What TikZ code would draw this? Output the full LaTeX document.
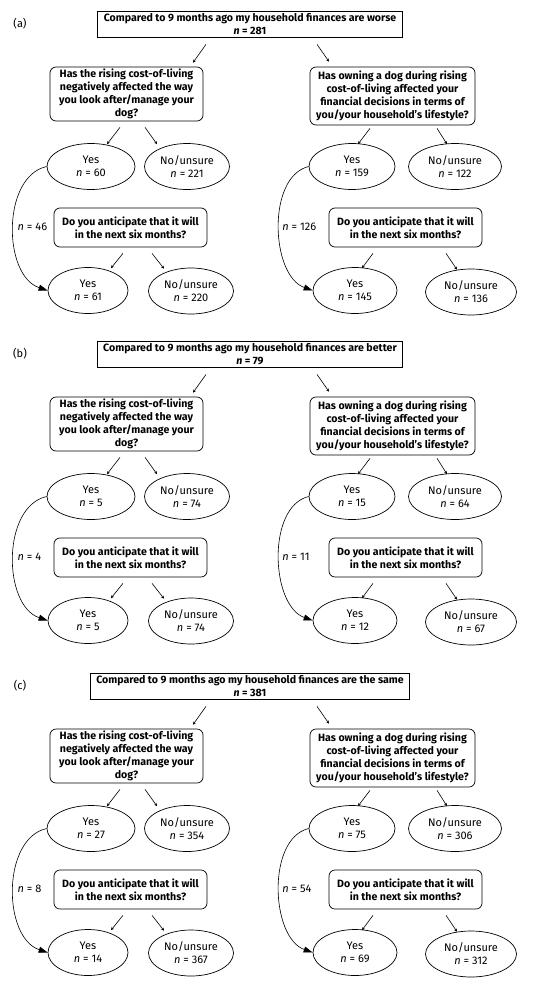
\documentclass[tikz,border=0pt]{standalone}
\usepackage{fontspec}
\setmainfont{Fira Sans}
\usetikzlibrary{arrows.meta,shapes.geometric}

\newcommand{\nn}{\textit{n} = }

\begin{document}
\begin{tikzpicture}[x=1pt,y=-1pt]
\tikzset{tag/.style = {font=\fontsize{11}{13}\selectfont}}
\tikzset{topbox/.style = {draw,line width=0.7pt,align=center,inner xsep=6pt,inner ysep=2.5pt,
  font=\fontsize{10.6}{12.8}\selectfont\bfseries}}
\tikzset{question/.style = {draw,rounded corners=6pt,line width=0.7pt,align=center,inner sep=1pt,
  font=\fontsize{10.6}{12.8}\selectfont\bfseries}}
\tikzset{answer/.style = {draw,ellipse,line width=0.7pt,align=center,inner sep=0pt,
  minimum height=46,font=\fontsize{11}{13}\selectfont}}
\tikzset{edge/.style = {-{Stealth[length=3pt,width=3pt]},line width=0.6pt}}
\tikzset{skip/.style = {-{Triangle[length=9pt,width=6pt]},line width=0.6pt}}
\useasboundingbox (0,0) rectangle (550,985);

% (a) worse
\begin{scope}[name prefix=a-]
\node[tag] (lab) at (20,24) {(a)};
\node[topbox] (top) at (250,24) {Compared to 9 months ago my household finances are worse\\\nn 281};
\node[question,minimum width=153,minimum height=54] (q1) at (126.5,94)
  {Has the rising cost-of-living\\negatively affected the way\\you look after/manage your\\dog?};
\node[question,minimum width=165,minimum height=58] (q2) at (392.5,96)
  {Has owning a dog during rising\\cost-of-living affected your\\financial decisions in terms of\\you/your household’s lifestyle?};
\node[answer,minimum width=88] (y1) at (91,166.5) {Yes\\\nn 60};
\node[answer,minimum width=85] (n1) at (187,166.5) {No/unsure\\\nn 221};
\node[answer,minimum width=86] (y2) at (352,166.5) {Yes\\\nn 159};
\node[answer,minimum width=93] (n2) at (455,166.5) {No/unsure\\\nn 122};
\node[question,minimum width=153,minimum height=39] (q3) at (130.5,227.5)
  {Do you anticipate that it will\\in the next six months?};
\node[question,minimum width=153,minimum height=39] (q4) at (405.5,227.5)
  {Do you anticipate that it will\\in the next six months?};
\node[answer,minimum width=80] (y3) at (88,290.5) {Yes\\\nn 61};
\node[answer,minimum width=85] (n3) at (191,291) {No/unsure\\\nn 220};
\node[answer,minimum width=84] (y4) at (355,290.5) {Yes\\\nn 145};
\node[answer,minimum width=91] (n4) at (471,292) {No/unsure\\\nn 136};
% arrows
\draw[edge] ([xshift=-44pt,yshift=-7pt]top.south) -- ([xshift=66.5pt,yshift=4pt]q1.north);
\draw[edge] ([xshift=67pt,yshift=-7pt]top.south) -- ([xshift=-63.5pt,yshift=5pt]q2.north);
\draw[edge] ([xshift=-6.5pt,yshift=-6pt]q1.south) -- ([xshift=16pt,yshift=-1pt]y1.north);
\draw[edge] ([xshift=18.5pt,yshift=-6pt]q1.south) -- ([xshift=-30pt,yshift=-1pt]n1.north);
\draw[edge] ([xshift=-22.5pt,yshift=-3pt]q2.south) -- ([xshift=6pt,yshift=-1pt]y2.north);
\draw[edge] ([xshift=44.5pt,yshift=-3pt]q2.south) -- ([xshift=-8pt,yshift=-1pt]n2.north);
\draw[edge] ([xshift=-7.5pt,yshift=-6pt]q3.south) -- ([xshift=23pt,yshift=-1pt]y3.north);
\draw[edge] ([xshift=21.5pt,yshift=-6pt]q3.south) -- ([xshift=-27pt,yshift=-1pt]n3.north);
\draw[edge] ([xshift=-32.5pt,yshift=-6pt]q4.south) -- ([xshift=7pt,yshift=-1pt]y4.north);
\draw[edge] ([xshift=40.5pt,yshift=-6pt]q4.south) -- ([xshift=-14pt,yshift=-1pt]n4.north);
\draw[skip] (y1.west) .. controls +(-45,10) and +(-45,-15) .. (y3.west)
  node[midway,right,tag,inner sep=4pt] {\nn 46};
\draw[skip] (y2.west) .. controls +(-42,10) and +(-42,-15) .. (y4.west)
  node[midway,right,tag,inner sep=3pt] {\nn 126};
\end{scope}

% (b) better
\begin{scope}[name prefix=b-,shift={(0,330)}]
\node[tag] (lab) at (20,24) {(b)};
\node[topbox] (top) at (250,24) {Compared to 9 months ago my household finances are better\\\nn 79};
\node[question,minimum width=153,minimum height=54] (q1) at (126.5,94)
  {Has the rising cost-of-living\\negatively affected the way\\you look after/manage your\\dog?};
\node[question,minimum width=165,minimum height=58] (q2) at (392.5,96)
  {Has owning a dog during rising\\cost-of-living affected your\\financial decisions in terms of\\you/your household’s lifestyle?};
\node[answer,minimum width=88] (y1) at (91,166.5) {Yes\\\nn 5};
\node[answer,minimum width=85] (n1) at (187,166.5) {No/unsure\\\nn 74};
\node[answer,minimum width=86] (y2) at (352,166.5) {Yes\\\nn 15};
\node[answer,minimum width=93] (n2) at (455,166.5) {No/unsure\\\nn 64};
\node[question,minimum width=153,minimum height=39] (q3) at (130.5,227.5)
  {Do you anticipate that it will\\in the next six months?};
\node[question,minimum width=153,minimum height=39] (q4) at (405.5,227.5)
  {Do you anticipate that it will\\in the next six months?};
\node[answer,minimum width=80] (y3) at (88,290.5) {Yes\\\nn 5};
\node[answer,minimum width=85] (n3) at (191,291) {No/unsure\\\nn 74};
\node[answer,minimum width=84] (y4) at (355,290.5) {Yes\\\nn 12};
\node[answer,minimum width=91] (n4) at (471,292) {No/unsure\\\nn 67};
% arrows
\draw[edge] ([xshift=-44pt,yshift=-7pt]top.south) -- ([xshift=66.5pt,yshift=4pt]q1.north);
\draw[edge] ([xshift=67pt,yshift=-7pt]top.south) -- ([xshift=-63.5pt,yshift=5pt]q2.north);
\draw[edge] ([xshift=-6.5pt,yshift=-6pt]q1.south) -- ([xshift=16pt,yshift=-1pt]y1.north);
\draw[edge] ([xshift=18.5pt,yshift=-6pt]q1.south) -- ([xshift=-30pt,yshift=-1pt]n1.north);
\draw[edge] ([xshift=-22.5pt,yshift=-3pt]q2.south) -- ([xshift=6pt,yshift=-1pt]y2.north);
\draw[edge] ([xshift=44.5pt,yshift=-3pt]q2.south) -- ([xshift=-8pt,yshift=-1pt]n2.north);
\draw[edge] ([xshift=-7.5pt,yshift=-6pt]q3.south) -- ([xshift=23pt,yshift=-1pt]y3.north);
\draw[edge] ([xshift=21.5pt,yshift=-6pt]q3.south) -- ([xshift=-27pt,yshift=-1pt]n3.north);
\draw[edge] ([xshift=-32.5pt,yshift=-6pt]q4.south) -- ([xshift=7pt,yshift=-1pt]y4.north);
\draw[edge] ([xshift=40.5pt,yshift=-6pt]q4.south) -- ([xshift=-14pt,yshift=-1pt]n4.north);
\draw[skip] (y1.west) .. controls +(-45,10) and +(-45,-15) .. (y3.west)
  node[midway,right,tag,inner sep=4pt] {\nn 4};
\draw[skip] (y2.west) .. controls +(-42,10) and +(-42,-15) .. (y4.west)
  node[midway,right,tag,inner sep=3pt] {\nn 11};
\end{scope}

% (c) the same
\begin{scope}[name prefix=c-,shift={(0,662)}]
\node[tag] (lab) at (20,24) {(c)};
\node[topbox] (top) at (250,24) {Compared to 9 months ago my household finances are the same\\\nn 381};
\node[question,minimum width=153,minimum height=54] (q1) at (126.5,94)
  {Has the rising cost-of-living\\negatively affected the way\\you look after/manage your\\dog?};
\node[question,minimum width=165,minimum height=58] (q2) at (392.5,96)
  {Has owning a dog during rising\\cost-of-living affected your\\financial decisions in terms of\\you/your household’s lifestyle?};
\node[answer,minimum width=88] (y1) at (91,166.5) {Yes\\\nn 27};
\node[answer,minimum width=85] (n1) at (187,166.5) {No/unsure\\\nn 354};
\node[answer,minimum width=86] (y2) at (352,166.5) {Yes\\\nn 75};
\node[answer,minimum width=93] (n2) at (455,166.5) {No/unsure\\\nn 306};
\node[question,minimum width=153,minimum height=39] (q3) at (130.5,227.5)
  {Do you anticipate that it will\\in the next six months?};
\node[question,minimum width=153,minimum height=39] (q4) at (405.5,227.5)
  {Do you anticipate that it will\\in the next six months?};
\node[answer,minimum width=80] (y3) at (88,290.5) {Yes\\\nn 14};
\node[answer,minimum width=85] (n3) at (191,291) {No/unsure\\\nn 367};
\node[answer,minimum width=84] (y4) at (355,290.5) {Yes\\\nn 69};
\node[answer,minimum width=91] (n4) at (471,292) {No/unsure\\\nn 312};
% arrows
\draw[edge] ([xshift=-44pt,yshift=-7pt]top.south) -- ([xshift=66.5pt,yshift=4pt]q1.north);
\draw[edge] ([xshift=67pt,yshift=-7pt]top.south) -- ([xshift=-63.5pt,yshift=5pt]q2.north);
\draw[edge] ([xshift=-6.5pt,yshift=-6pt]q1.south) -- ([xshift=16pt,yshift=-1pt]y1.north);
\draw[edge] ([xshift=18.5pt,yshift=-6pt]q1.south) -- ([xshift=-30pt,yshift=-1pt]n1.north);
\draw[edge] ([xshift=-22.5pt,yshift=-3pt]q2.south) -- ([xshift=6pt,yshift=-1pt]y2.north);
\draw[edge] ([xshift=44.5pt,yshift=-3pt]q2.south) -- ([xshift=-8pt,yshift=-1pt]n2.north);
\draw[edge] ([xshift=-7.5pt,yshift=-6pt]q3.south) -- ([xshift=23pt,yshift=-1pt]y3.north);
\draw[edge] ([xshift=21.5pt,yshift=-6pt]q3.south) -- ([xshift=-27pt,yshift=-1pt]n3.north);
\draw[edge] ([xshift=-32.5pt,yshift=-6pt]q4.south) -- ([xshift=7pt,yshift=-1pt]y4.north);
\draw[edge] ([xshift=40.5pt,yshift=-6pt]q4.south) -- ([xshift=-14pt,yshift=-1pt]n4.north);
\draw[skip] (y1.west) .. controls +(-45,10) and +(-45,-15) .. (y3.west)
  node[midway,right,tag,inner sep=4pt] {\nn 8};
\draw[skip] (y2.west) .. controls +(-42,10) and +(-42,-15) .. (y4.west)
  node[midway,right,tag,inner sep=3pt] {\nn 54};
\end{scope}
\end{tikzpicture}
\end{document}
